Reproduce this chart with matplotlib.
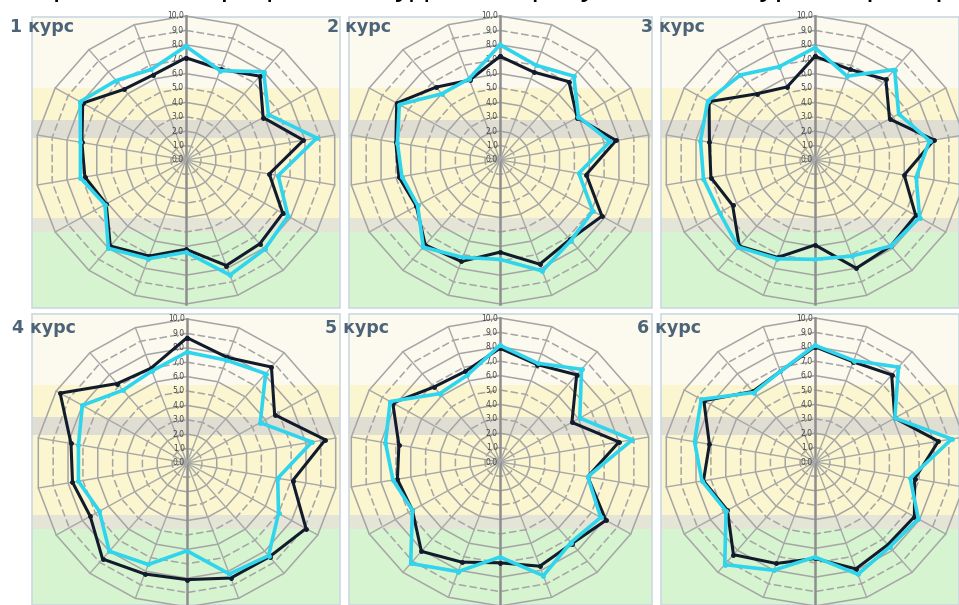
import numpy as np
import matplotlib.pyplot as plt
from matplotlib.patches import Rectangle

# 18 criteria, values on a 0..10 scale, clockwise from the top
n_axes = 18
titles = ["1 курс", "2 курс", "3 курс", "4 курс", "5 курс", "6 курс"]

c1_dark = [7.1, 6.7, 7.6, 5.9, 7.9, 5.6, 7.4, 7.6, 7.8, 6.2, 7.1, 7.8, 6.1, 6.8, 7.0, 7.9, 6.4, 6.3]
c1_light = [7.9, 6.6, 8.0, 6.3, 8.8, 6.2, 7.8, 8.1, 8.5, 6.4, 7.3, 8.0, 6.2, 7.1, 7.1, 8.1, 7.2, 6.7]
c2_dark = [7.2, 6.5, 7.1, 5.9, 7.8, 5.8, 7.8, 7.2, 7.7, 6.4, 7.5, 7.7, 6.4, 6.8, 7.0, 7.9, 6.6, 5.9]
c2_light = [8.0, 7.0, 7.6, 6.0, 7.4, 5.3, 7.1, 7.3, 8.2, 6.9, 7.2, 7.9, 6.3, 6.6, 6.9, 7.7, 6.0, 6.0]
c3_dark = [7.2, 6.7, 7.3, 5.7, 8.0, 6.0, 7.7, 7.8, 8.0, 5.9, 7.2, 7.8, 6.3, 7.0, 7.1, 8.1, 6.0, 5.4]
c3_light = [7.8, 6.2, 8.2, 6.4, 7.7, 6.8, 8.0, 7.8, 7.1, 6.9, 7.3, 7.9, 7.3, 7.5, 7.7, 8.2, 7.7, 6.9]
c4_dark = [8.7, 7.8, 8.7, 6.7, 9.3, 7.1, 9.1, 8.5, 8.5, 8.1, 8.2, 8.7, 7.4, 7.7, 7.8, 9.7, 7.2, 7.0]
c4_light = [7.7, 7.6, 8.1, 5.6, 8.4, 6.1, 7.0, 8.4, 8.2, 6.1, 7.5, 8.0, 6.7, 7.3, 7.3, 8.0, 6.6, 6.8]
c5_dark = [7.9, 7.2, 7.9, 5.5, 8.0, 5.9, 8.1, 7.4, 7.7, 7.0, 7.4, 8.1, 6.7, 6.9, 6.8, 8.2, 6.8, 6.7]
c5_light = [8.1, 7.3, 8.4, 6.1, 8.9, 5.9, 7.7, 7.3, 8.4, 6.6, 8.1, 9.2, 6.7, 7.2, 7.7, 8.4, 6.2, 6.4]
c6_dark = [8.0, 7.4, 7.9, 6.1, 8.3, 6.7, 7.6, 7.5, 7.9, 6.7, 7.5, 8.4, 6.7, 7.5, 7.1, 8.5, 6.4, 6.7]
c6_light = [8.1, 7.5, 8.6, 6.1, 9.2, 6.4, 7.9, 7.7, 8.3, 6.6, 8.0, 9.3, 6.8, 7.6, 8.1, 8.7, 6.3, 6.7]

dark_series = [c1_dark, c2_dark, c3_dark, c4_dark, c5_dark, c6_dark]
light_series = [c1_light, c2_light, c3_light, c4_light, c5_light, c6_light]

ring_labels = ["%d,0" % v for v in range(11)]

W, H = 959, 605
fig = plt.figure(figsize=(W / 100, H / 100), dpi=100)
fig.patch.set_facecolor("white")

# page layer in pixel coordinates: panel backgrounds and the heading line
bg = fig.add_axes([0, 0, 1, 1])
bg.set_xlim(0, W)
bg.set_ylim(H, 0)
bg.axis("off")

panel_x = [(32, 340), (349, 652), (661, 959)]
panel_y = [17, 314]
bands = [  # offsets from panel top, colour
    (0, 71, "#fcf9ef"),
    (71, 103, "#fbf6cf"),
    (103, 121, "#e0ded3"),
    (121, 201, "#fbf6cf"),
    (201, 215, "#e5e5d7"),
    (215, 291, "#d7f4d0"),
]
for top in panel_y:
    for x0, x1 in panel_x:
        for a, b, col in bands:
            bg.add_patch(Rectangle((x0, top + a), x1 - x0, b - a, facecolor=col,
                                   edgecolor="none", zorder=1))
        bg.add_patch(Rectangle((x0, top), x1 - x0, 291, facecolor="none",
                               edgecolor="#cbd8e2", lw=1.2, zorder=2))

# heading line of the page, only its lower edge falls inside the figure
bg.text(30, -5, "Сравнение профилей студентов факультета по курсам, распределение средних оценок",
        fontsize=23, color="black", ha="left", va="baseline", family="Liberation Sans", zorder=3)

label_pos = [(10, 27), (327, 27), (641, 27), (12, 328), (325, 328), (637, 328)]
for (lx, ly), t in zip(label_pos, titles):
    bg.text(lx, ly, t, fontsize=12.5, fontweight="bold", color="#4d6478",
            ha="left", va="center", zorder=3)

# radar panels
centers = [(186, 160), (500, 160), (815, 160), (187, 463), (500, 462), (815, 462)]
sx, sy = 15.1, 14.4  # pixels per unit
lim = 11

theta = np.arange(n_axes) * 2 * np.pi / n_axes
st, ct = np.sin(theta), np.cos(theta)
st_c, ct_c = np.append(st, st[0]), np.append(ct, ct[0])

for (cx, cy), dark, light in zip(centers, dark_series, light_series):
    w, h = 2 * lim * sx, 2 * lim * sy
    ax = fig.add_axes([(cx - w / 2) / W, (H - cy - h / 2) / H, w / W, h / H])
    ax.set_xlim(-lim, lim)
    ax.set_ylim(-lim, lim)
    ax.axis("off")
    ax.patch.set_alpha(0)

    for r in range(1, 11):
        ls = "-" if r in (2, 4, 6, 8, 10) else (0, (5, 2))
        ax.plot(r * st_c, r * ct_c, color="#a5a5a5", lw=1.1, ls=ls, clip_on=False, zorder=1)
    for k in range(n_axes):
        vert = k in (0, n_axes // 2)
        ax.plot([0, 10 * st[k]], [0, 10 * ct[k]], color="#8e8e8e" if vert else "#a8a8a8",
                lw=1.8 if vert else 1.0, clip_on=False, zorder=1)
    for r, s in enumerate(ring_labels):
        ax.text(-0.15, r, s, fontsize=5.5, color="#444444", ha="right", va="center", zorder=2)

    d = np.append(dark, dark[0])
    l = np.append(light, light[0])
    ax.plot(d * st_c, d * ct_c, color="#111b2b", lw=2.2, marker="o", ms=2.5,
            clip_on=False, zorder=3)
    ax.plot(l * st_c, l * ct_c, color="#2fd4ed", lw=2.6, marker="o", ms=2.5,
            clip_on=False, zorder=4)

fig.savefig("out.png", dpi=100)
